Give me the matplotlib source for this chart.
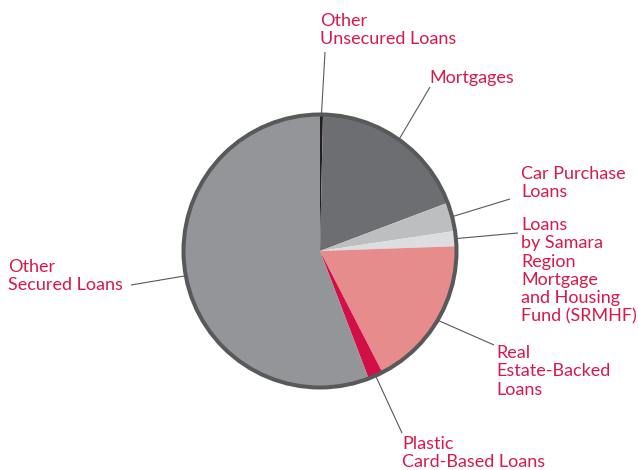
import numpy as np
import matplotlib
matplotlib.use("Agg")
import matplotlib.pyplot as plt
from matplotlib.patches import Circle

# loan portfolio shares (%), clockwise from 12 o'clock
labels = [
    "Other\nUnsecured Loans",
    "Mortgages",
    "Car Purchase\nLoans",
    "Loans\nby Samara\nRegion\nMortgage\nand Housing\nFund (SRMHF)",
    "Real\nEstate-Backed\nLoans",
    "Plastic\nCard-Based Loans",
    "Other\nSecured Loans",
]
shares = [0.35, 18.9, 3.4, 1.8, 18.0, 1.75, 55.8]
colors = ["#231f20", "#6d6e71", "#bcbec0", "#dcdddf", "#e78c8c", "#d20f46", "#939598"]

# label layout (pixel coords, y downwards): text top-left and leader end
text_pos = [(320, 13), (429, 70), (521, 166), (521, 217), (496, 345), (402, 436), (8, 259)]
leader_end = [(325, 52), (430, 87), (510, 199), (518, 233), (494, 345), (402, 433), (131, 285)]

TEXT_COLOR = "#d7194b"
LINE_COLOR = "#58595b"
CENTER = (320, 251)
RADIUS = 136.5

fig = plt.figure(figsize=(6.38, 4.70), dpi=100)
ax = fig.add_axes([0, 0, 1, 1])

wedges, _ = ax.pie(shares, colors=colors, startangle=-90, counterclock=True,
                   center=CENTER, radius=RADIUS,
                   wedgeprops=dict(linewidth=0))
ax.add_patch(Circle(CENTER, RADIUS, fill=False, edgecolor=LINE_COLOR, linewidth=2.9))

ax.set_xlim(0, 638)
ax.set_ylim(470, 0)
ax.set_aspect("equal")
ax.axis("off")

for w, lab, tp, le in zip(wedges, labels, text_pos, leader_end):
    theta = np.deg2rad((w.theta1 + w.theta2) / 2)
    r0 = RADIUS + 1
    x0 = CENTER[0] + r0 * np.cos(theta)
    y0 = CENTER[1] + r0 * np.sin(theta)
    ax.plot([x0, le[0]], [y0, le[1]], color=LINE_COLOR, linewidth=0.8,
            solid_capstyle="butt")
    ax.text(tp[0], tp[1], lab, ha="left", va="top", color=TEXT_COLOR,
            fontsize=13, family="Lato", linespacing=1.18)

fig.savefig("out.png", dpi=100)
